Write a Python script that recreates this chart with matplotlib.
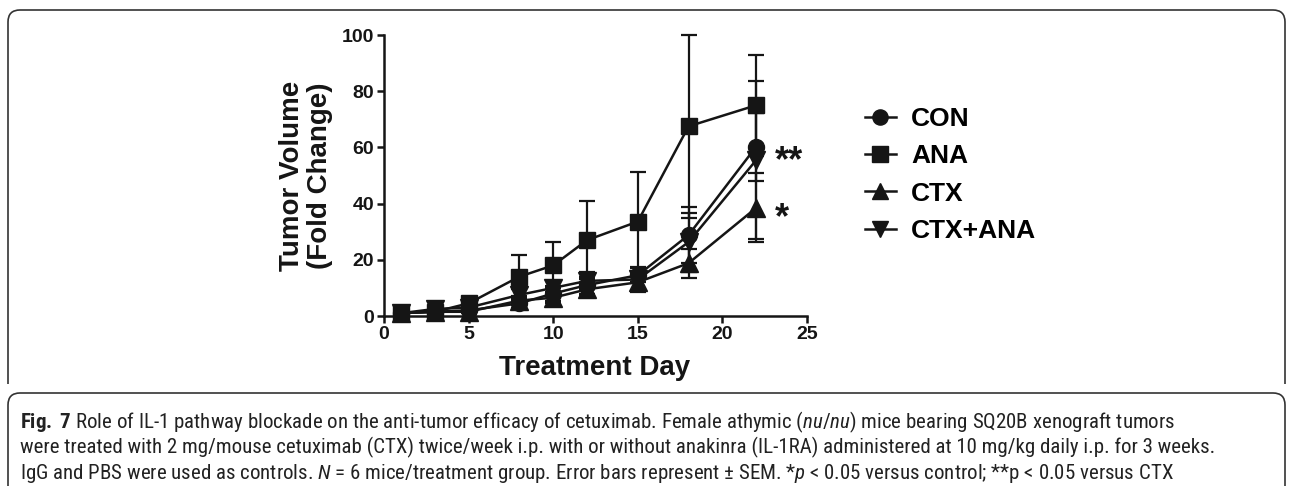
import numpy as np
import matplotlib
matplotlib.use("Agg")
import matplotlib.pyplot as plt
from matplotlib import font_manager
from matplotlib.path import Path
from matplotlib.patches import PathPatch
from matplotlib.lines import Line2D

# treatment days and group means / SEM (fold change)
days = [1, 3, 5, 8, 10, 12, 15, 18, 22]
con_mean = [1.0, 1.5, 2.0, 4.5, 8.0, 11.0, 14.5, 28.8, 60.3]
con_sem = [0.3, 0.5, 0.8, 1.5, 2.5, 3.0, 2.5, 10.1, 12.1]
ana_mean = [1.0, 1.5, 4.5, 14.0, 18.0, 27.0, 33.6, 67.5, 75.0]
ana_sem = [0.3, 0.8, 1.2, 7.7, 8.2, 14.0, 17.8, 32.5, 18.0]
ctx_mean = [1.0, 1.5, 1.5, 5.5, 6.5, 9.5, 12.0, 18.8, 38.5]
ctx_sem = [0.3, 0.5, 0.6, 1.5, 2.0, 2.5, 3.2, 5.2, 12.3]
combo_mean = [1.0, 2.5, 3.0, 7.5, 10.0, 12.5, 13.0, 26.3, 55.5]
combo_sem = [0.3, 1.0, 1.0, 2.0, 2.5, 3.0, 4.5, 10.5, 28.2]

groups = ["CON", "ANA", "CTX", "CTX+ANA"]
x_ticks = [0, 5, 10, 15, 20, 25]
y_ticks = [0, 20, 40, 60, 80, 100]

caption = [
    r"$\mathbf{Fig.\ 7}$ Role of IL-1 pathway blockade on the anti-tumor efficacy of cetuximab. "
    r"Female athymic ($\mathit{nu/nu}$) mice bearing SQ20B xenograft tumors",
    "were treated with 2 mg/mouse cetuximab (CTX) twice/week i.p. with or without anakinra "
    "(IL-1RA) administered at 10 mg/kg daily i.p. for 3 weeks.",
    r"IgG and PBS were used as controls. $\mathit{N}$ = 6 mice/treatment group. Error bars represent "
    r"± SEM. *$\mathit{p}$ < 0.05 versus control; **p < 0.05 versus CTX",
]

installed = {f.name for f in font_manager.fontManager.ttflist}
cap_font = "DejaVu Sans"
for name in ["Liberation Sans Narrow", "Roboto Condensed", "Open Sans Condensed",
             "DejaVu Sans Condensed", "Roboto", "Liberation Sans"]:
    if name in installed:
        cap_font = name
        break

plt.rcParams["font.family"] = ["Liberation Sans", "DejaVu Sans"]
plt.rcParams["mathtext.fontset"] = "custom"
plt.rcParams["mathtext.rm"] = cap_font
plt.rcParams["mathtext.it"] = cap_font + ":italic"
plt.rcParams["mathtext.bf"] = cap_font + ":bold"

W, H = 1293, 486
fig = plt.figure(figsize=(W / 100, H / 100), dpi=100)
ax = fig.add_axes([384 / W, 1 - 316 / H, (807 - 384) / W, (316 - 35) / H])

ink = "#151515"
series = [
    (con_mean, con_sem, "o", 11.5),
    (ana_mean, ana_sem, "s", 11.5),
    (ctx_mean, ctx_sem, "^", 12.5),
    (combo_mean, combo_sem, "v", 12.5),
]
handles = []
for (m, s, mk, ms), label in zip(series, groups):
    ax.errorbar(days, m, yerr=s, color=ink, ecolor=ink, elinewidth=1.6,
                capsize=6, capthick=1.6, lw=1.8, marker=mk, ms=ms,
                mfc=ink, mec=ink, clip_on=False)
    handles.append(Line2D([], [], color=ink, lw=1.8, marker=mk, ms=ms * 0.95,
                          mfc=ink, mec=ink, label=label))

ax.set_xlim(0, 25)
ax.set_ylim(0, 100)
ax.set_xticks(x_ticks)
ax.set_yticks(y_ticks)
for sp in ["top", "right"]:
    ax.spines[sp].set_visible(False)
for sp in ["left", "bottom"]:
    ax.spines[sp].set_linewidth(1.8)
    ax.spines[sp].set_color(ink)
ax.tick_params(direction="out", length=5, width=1.8, color=ink, labelsize=14, pad=2)
for t in ax.get_xticklabels() + ax.get_yticklabels():
    t.set_fontweight("bold")
    t.set_color(ink)

ax.text(23.1, 54.8, "**", fontsize=26, fontweight="bold", ha="left", va="center", color=ink)
ax.text(23.1, 34.6, "*", fontsize=26, fontweight="bold", ha="left", va="center", color=ink)

fig.text(306 / W, 1 - 176 / H, "Tumor Volume\n(Fold Change)", rotation=90, ha="center",
         va="center", fontsize=20, fontweight="bold", linespacing=1.1, color=ink)
fig.text(595 / W, 1 - 368 / H, "Treatment Day", ha="center", va="center",
         fontsize=20, fontweight="bold", color=ink)

leg = ax.legend(handles=handles, loc="upper left", bbox_to_anchor=(852 / W, 1 - 94 / H),
                bbox_transform=fig.transFigure, frameon=False,
                prop={"weight": "bold", "size": 19}, handlelength=1.15,
                handletextpad=0.6, labelspacing=0.5, borderpad=0)

# caption: one font size for all lines, chosen so the second line ends where the reference's does
renderer = fig.canvas.get_renderer()
cap_texts = []
for i, line in enumerate(caption):
    cap_texts.append(fig.text(20 / W, 1 - (422 + 25.5 * i) / H, line, ha="left", va="center",
                              fontsize=14, family=cap_font, color="#222222"))
w2 = cap_texts[1].get_window_extent(renderer).width
cap_size = 14 * (1224 - 20) / w2
for t in cap_texts:
    t.set_fontsize(cap_size)

# frame around figure panel and caption
r = 12
x0, x1 = 8, 1285
top1, bot1 = H - 10, H - 384
panel = Path([(x0, bot1), (x0, top1 - r), (x0, top1), (x0 + r, top1), (x1 - r, top1),
              (x1, top1), (x1, top1 - r), (x1, bot1)],
             [Path.MOVETO, Path.LINETO, Path.CURVE3, Path.CURVE3, Path.LINETO,
              Path.CURVE3, Path.CURVE3, Path.LINETO])
top2, bot2 = H - 393, -20
cap_box = Path([(x0, bot2), (x0, top2 - r), (x0, top2), (x0 + r, top2), (x1 - r, top2),
                (x1, top2), (x1, top2 - r), (x1, bot2)],
               [Path.MOVETO, Path.LINETO, Path.CURVE3, Path.CURVE3, Path.LINETO,
                Path.CURVE3, Path.CURVE3, Path.LINETO])
for p in [panel, cap_box]:
    fig.add_artist(PathPatch(p, transform=None, fill=False, lw=1.2, ec="#333333"))

fig.savefig("out.png", dpi=100)
